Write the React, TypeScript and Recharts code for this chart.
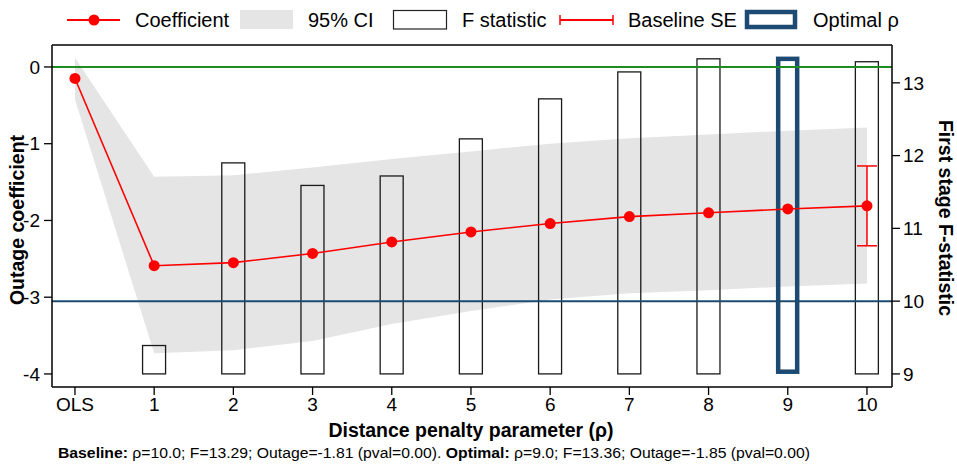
import React from "react"
import {
  ComposedChart,
  Area,
  Bar,
  Line,
  XAxis,
  YAxis,
  ReferenceLine,
  ErrorBar,
} from "recharts"

// rho = 0 stands for the OLS estimate
const RHO = [0, 1, 2, 3, 4, 5, 6, 7, 8, 9, 10]
const COEF = [-0.15, -2.59, -2.55, -2.43, -2.28, -2.15, -2.04, -1.95, -1.9, -1.85, -1.81]
const CI_LO = [-0.42, -3.73, -3.69, -3.57, -3.35, -3.18, -3.03, -2.95, -2.91, -2.86, -2.82]
const CI_HI = [0.12, -1.43, -1.41, -1.31, -1.2, -1.1, -1.0, -0.93, -0.88, -0.83, -0.79]
const F_STAT = [null, 9.39, 11.9, 11.59, 11.72, 12.23, 12.78, 13.15, 13.33, 13.36, 13.29]
const BASELINE_SE = [0, 0, 0, 0, 0, 0, 0, 0, 0, 0, 0.52]
const OPTIMAL_RHO = 9
const F_BASE = 9
const F_THRESHOLD = 10

const LEFT_TICKS = [-4, -3, -2, -1, 0]
const RIGHT_TICKS = [9, 10, 11, 12, 13]
const LEFT_DOMAIN = [-4.17, 0.286]
const RIGHT_DOMAIN = [8.82, 13.52]
const X_DOMAIN = [-0.29, 10.316]

const RED = "#ff0000"
const NAVY = "#1c4a72"
const GREEN = "#1e8c1e"
const BAND = "#e5e5e5"
const FONT = "'Liberation Sans', Arial, sans-serif"

const data = RHO.map((r, i) => ({
  rho: r,
  coef: COEF[i],
  ci: [CI_LO[i], CI_HI[i]],
  f: F_STAT[i] == null ? null : [F_BASE, F_STAT[i]],
  se: BASELINE_SE[i],
}))

const FBar = (props: any) => {
  const { x, y, width, height, payload } = props
  if (x == null || !height) return null
  if (payload.rho === OPTIMAL_RHO) {
    return (
      <rect x={x + 2} y={y + 2.2} width={width - 4} height={height - 4.4} fill="none" stroke={NAVY} strokeWidth={4.5} />
    )
  }
  return <rect x={x} y={y} width={width} height={height} fill="none" stroke="#1a1a1a" strokeWidth={1.3} />
}

const tickStyle = { fill: "#000", fontSize: 19, fontFamily: FONT }
const axisLine = { stroke: "#000", strokeWidth: 1.5 }

export default function App() {
  return (
    <div style={{ position: "absolute", left: 0, top: 0, width: 957, height: 469, background: "#fff", fontFamily: FONT }}>
      <ComposedChart
        width={957}
        height={469}
        data={data}
        margin={{ top: 45, right: 15, left: 12, bottom: 52 }}
      >
        <XAxis
          dataKey="rho"
          type="number"
          domain={X_DOMAIN}
          ticks={RHO}
          tickFormatter={(v) => (v === 0 ? "OLS" : String(v))}
          tick={tickStyle}
          tickSize={8}
          tickMargin={3}
          tickLine={{ stroke: "#000", strokeWidth: 1.3 }}
          axisLine={axisLine}
          height={30}
          allowDataOverflow
        />
        <YAxis
          yAxisId="left"
          domain={LEFT_DOMAIN}
          ticks={LEFT_TICKS}
          tick={tickStyle}
          tickSize={8}
          tickMargin={4}
          tickLine={{ stroke: "#000", strokeWidth: 1.3 }}
          axisLine={axisLine}
          width={40}
          allowDataOverflow
        />
        <YAxis
          yAxisId="right"
          orientation="right"
          domain={RIGHT_DOMAIN}
          ticks={RIGHT_TICKS}
          tick={tickStyle}
          tickSize={8}
          tickMargin={3}
          tickLine={{ stroke: "#000", strokeWidth: 1.3 }}
          axisLine={axisLine}
          width={50}
          allowDataOverflow
        />
        <Area
          yAxisId="left"
          dataKey="ci"
          type="linear"
          stroke="none"
          fill={BAND}
          fillOpacity={1}
          isAnimationActive={false}
        />
        <Bar yAxisId="right" dataKey="f" barSize={23} shape={FBar} isAnimationActive={false} />
        <ReferenceLine yAxisId="left" y={0} stroke={GREEN} strokeWidth={2} />
        <ReferenceLine yAxisId="right" y={F_THRESHOLD} stroke={NAVY} strokeWidth={2} />
        <ReferenceLine yAxisId="left" y={LEFT_DOMAIN[1]} stroke="#000" strokeWidth={1.5} />
        <Line
          yAxisId="left"
          dataKey="coef"
          type="linear"
          stroke={RED}
          strokeWidth={1.6}
          dot={{ r: 5.5, fill: RED, stroke: "none" }}
          activeDot={false}
          isAnimationActive={false}
        >
          <ErrorBar dataKey="se" width={10} stroke={RED} strokeWidth={1.5} direction="y" />
        </Line>
      </ComposedChart>

      <svg width={957} height={469} style={{ position: "absolute", left: 0, top: 0, pointerEvents: "none" }}>
        {/* legend */}
        <g fontFamily={FONT} fontSize={20} fill="#000">
          <line x1={67} y1={20} x2={120} y2={20} stroke={RED} strokeWidth={2} />
          <circle cx={94} cy={20} r={5.5} fill={RED} />
          <text x={135} y={27}>Coefficient</text>
          <rect x={240} y={10} width={53} height={19} fill={BAND} />
          <text x={308} y={27}>95% CI</text>
          <rect x={393.5} y={10.5} width={53} height={18.5} fill="#fff" stroke="#222" strokeWidth={1.2} />
          <text x={462} y={27}>F statistic</text>
          <line x1={560} y1={20} x2={613} y2={20} stroke={RED} strokeWidth={2} />
          <line x1={560} y1={15} x2={560} y2={25} stroke={RED} strokeWidth={1.5} />
          <line x1={613} y1={15} x2={613} y2={25} stroke={RED} strokeWidth={1.5} />
          <text x={628} y={27}>Baseline SE</text>
          <rect x={747} y={12} width={48} height={15} fill="#fff" stroke={NAVY} strokeWidth={4.5} />
          <text x={813} y={27}>Optimal ρ</text>
        </g>
        {/* axis titles */}
        <text
          transform="translate(24,220) rotate(-90)"
          textAnchor="middle"
          fontFamily={FONT}
          fontSize={19.5}
          fontWeight="bold"
        >
          Outage coefficient
        </text>
        <text
          transform="translate(939,218) rotate(90)"
          textAnchor="middle"
          fontFamily={FONT}
          fontSize={19.5}
          fontWeight="bold"
        >
          First stage F-statistic
        </text>
        <text x={471} y={437} textAnchor="middle" fontFamily={FONT} fontSize={19.5} fontWeight="bold">
          Distance penalty parameter (ρ)
        </text>
        <text x={58} y={458} fontFamily={FONT} fontSize={14} textLength={752} lengthAdjust="spacingAndGlyphs">
          <tspan fontWeight="bold">Baseline:</tspan>
          <tspan> ρ=10.0; F=13.29; Outage=-1.81 (pval=0.00). </tspan>
          <tspan fontWeight="bold">Optimal:</tspan>
          <tspan>  ρ=9.0; F=13.36; Outage=-1.85 (pval=0.00)</tspan>
        </text>
      </svg>
    </div>
  )
}
